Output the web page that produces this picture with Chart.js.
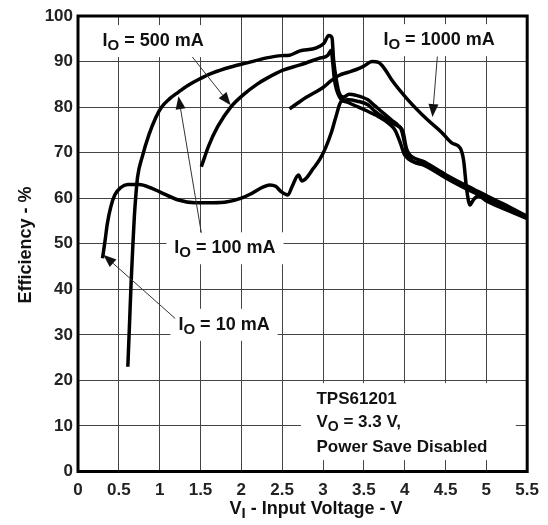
<!DOCTYPE html>
<html>
<head>
<meta charset="utf-8">
<script src="https://cdn.jsdelivr.net/npm/chart.js@4.4.0/dist/chart.umd.min.js"></script>
<style>
  html, body { margin: 0; padding: 0; background: #fff; }
</style>
</head>
<body>
<canvas id="chart" width="548" height="525"></canvas>
<script>
// axis ticks
const xTicks = [0, 0.5, 1, 1.5, 2, 2.5, 3, 3.5, 4, 4.5, 5, 5.5];
const yTicks = [0, 10, 20, 30, 40, 50, 60, 70, 80, 90, 100];

// IO = 10 mA
const io10V   = [0.30, 0.33, 0.36, 0.40, 0.45, 0.52, 0.61, 0.75, 0.90, 1.00, 1.23, 1.43, 1.65, 1.83, 2.00, 2.10, 2.27, 2.35, 2.42, 2.49, 2.57, 2.62, 2.70, 2.74, 2.80, 2.88, 2.96, 3.03, 3.10, 3.16, 3.22, 3.30, 3.42, 3.55, 3.64, 3.80, 3.92, 3.96, 4.00, 4.04, 4.24, 4.52, 4.84, 5.20, 5.50];
const io10Eff = [46.8, 50.5, 54.5, 58.0, 60.7, 62.3, 63.0, 63.0, 62.2, 61.4, 59.6, 59.0, 59.0, 59.2, 60.0, 60.8, 62.5, 62.9, 62.6, 61.4, 60.7, 62.5, 65.1, 63.8, 64.5, 66.5, 68.5, 71.0, 74.3, 78.0, 81.2, 81.6, 81.3, 80.5, 79.0, 77.0, 75.8, 75.0, 72.0, 69.3, 67.2, 64.3, 61.3, 58.5, 55.8];

// IO = 100 mA
const io100V   = [0.61, 0.63, 0.65, 0.67, 0.69, 0.71, 0.73, 0.79, 0.87, 0.95, 1.02, 1.12, 1.23, 1.35, 1.47, 1.65, 1.87, 2.07, 2.31, 2.49, 2.59, 2.71, 2.92, 3.01, 3.07, 3.11, 3.13, 3.17, 3.20, 3.25, 3.32, 3.40, 3.55, 3.64, 3.75, 3.85, 3.92, 3.98, 4.02, 4.05, 4.24, 4.52, 4.84, 5.20, 5.50];
const io100Eff = [23.0, 32.0, 41.3, 49.0, 56.0, 61.0, 64.7, 69.3, 74.0, 77.6, 79.9, 81.8, 83.3, 84.8, 86.0, 87.5, 88.8, 89.7, 90.8, 91.3, 91.4, 92.3, 93.0, 94.0, 95.7, 95.2, 90.3, 85.3, 83.0, 82.2, 82.8, 82.6, 81.6, 80.2, 78.5, 77.0, 76.0, 74.5, 71.0, 69.8, 68.0, 65.0, 62.0, 58.8, 56.0];

// IO = 500 mA
const io500V   = [1.51, 1.60, 1.71, 1.87, 2.03, 2.19, 2.31, 2.51, 2.71, 2.95, 3.06, 3.10, 3.12, 3.14, 3.20, 3.31, 3.52, 3.68, 3.80, 3.88, 3.95, 4.00, 4.24, 4.52, 4.84, 5.20, 5.50];
const io500Eff = [66.9, 71.5, 75.7, 80.0, 82.8, 85.0, 86.3, 88.1, 89.2, 90.7, 91.4, 92.5, 89.6, 86.0, 82.3, 81.0, 79.3, 77.9, 76.5, 75.0, 72.0, 69.5, 67.4, 64.5, 61.5, 58.3, 55.6];

// IO = 1000 mA
const io1000V   = [2.59, 2.70, 2.80, 2.90, 3.00, 3.10, 3.20, 3.30, 3.40, 3.50, 3.60, 3.68, 3.75, 3.84, 4.04, 4.28, 4.45, 4.58, 4.68, 4.72, 4.76, 4.80, 4.84, 4.90, 5.00, 5.24, 5.50];
const io1000Eff = [79.6, 81.0, 82.2, 83.2, 84.3, 85.8, 87.0, 87.6, 88.2, 89.0, 90.0, 89.8, 88.5, 86.0, 81.6, 77.2, 74.5, 72.1, 71.0, 68.5, 61.8, 58.5, 59.6, 60.5, 59.4, 57.5, 55.5];

const FONT = '"Liberation Sans", Arial, sans-serif';
const toPoints = (xs, ys) => xs.map((x, i) => ({ x, y: ys[i] }));

function curve(label, xs, ys) {
  return {
    label,
    data: toPoints(xs, ys),
    showLine: true,
    borderColor: '#000',
    borderWidth: 3.5,
    pointRadius: 0,
    cubicInterpolationMode: 'monotone',
    fill: false
  };
}

// curve labels: text anchor, arrow start, arrow tip (in data units)
const notes = [
  { at: [0.30, 94.5], text: '500 mA', from: [1.40, 91.0], to: [1.87, 80.4] },
  { at: [3.74, 94.7], text: '1000 mA', from: [4.40, 91.1], to: [4.34, 77.8] },
  { at: [1.18, 49.0], text: '100 mA', from: [1.51, 52.4], to: [1.23, 82.4] },
  { at: [1.23, 32.2], text: '10 mA', from: [1.19, 33.6], to: [0.31, 47.6] }
];

// draws "I" + subscript + rest, returns width
function subText(ctx, x, y, main, sub, rest, size, draw) {
  ctx.font = 'bold ' + size + 'px ' + FONT;
  const w1 = ctx.measureText(main).width;
  const w3 = ctx.measureText(rest).width;
  ctx.font = 'bold ' + (size - 3) + 'px ' + FONT;
  const w2 = ctx.measureText(sub).width;
  if (draw) {
    ctx.textBaseline = 'middle';
    ctx.textAlign = 'left';
    ctx.font = 'bold ' + size + 'px ' + FONT;
    ctx.fillText(main, x, y);
    ctx.font = 'bold ' + (size - 3) + 'px ' + FONT;
    ctx.fillText(sub, x + w1, y + 5);
    ctx.font = 'bold ' + size + 'px ' + FONT;
    ctx.fillText(rest, x + w1 + w2, y);
  }
  return w1 + w2 + w3;
}

function arrow(ctx, x1, y1, x2, y2) {
  ctx.strokeStyle = '#333';
  ctx.fillStyle = '#111';
  ctx.lineWidth = 1;
  const a = Math.atan2(y2 - y1, x2 - x1), L = 13, W = 5;
  ctx.beginPath();
  ctx.moveTo(x1, y1);
  ctx.lineTo(x2 - L * Math.cos(a), y2 - L * Math.sin(a));
  ctx.stroke();
  ctx.beginPath();
  ctx.moveTo(x2, y2);
  ctx.lineTo(x2 - L * Math.cos(a) + W * Math.sin(a), y2 - L * Math.sin(a) - W * Math.cos(a));
  ctx.lineTo(x2 - L * Math.cos(a) - W * Math.sin(a), y2 - L * Math.sin(a) + W * Math.cos(a));
  ctx.closePath();
  ctx.fill();
}

const annotations = {
  id: 'annotations',
  beforeDatasetsDraw(chart) {
    const { ctx, scales: { x, y } } = chart;
    ctx.save();
    ctx.fillStyle = '#fff';
    notes.forEach(n => {
      const px = x.getPixelForValue(n.at[0]), py = y.getPixelForValue(n.at[1]);
      const w = subText(ctx, px, py, 'I', 'O', ' = ' + n.text, 18, false);
      ctx.fillStyle = '#fff';
      ctx.fillRect(px - 8, py - 16, w + 16, 32);
    });
    // info box
    const bx1 = x.getPixelForValue(2.73), bx2 = x.getPixelForValue(5.36);
    const by1 = y.getPixelForValue(19.4), by2 = y.getPixelForValue(2.5);
    ctx.fillRect(bx1, by1, bx2 - bx1, by2 - by1);
    ctx.restore();
  },
  afterDatasetsDraw(chart) {
    const { ctx, chartArea: a, scales: { x, y } } = chart;
    ctx.save();
    ctx.fillStyle = '#111';
    notes.forEach(n => {
      const px = x.getPixelForValue(n.at[0]), py = y.getPixelForValue(n.at[1]);
      ctx.fillStyle = '#111';
      subText(ctx, px, py, 'I', 'O', ' = ' + n.text, 18, true);
      arrow(ctx, x.getPixelForValue(n.from[0]), y.getPixelForValue(n.from[1]),
                 x.getPixelForValue(n.to[0]), y.getPixelForValue(n.to[1]));
    });
    // info text
    const tx = x.getPixelForValue(2.92);
    ctx.fillStyle = '#111';
    ctx.font = 'bold 17px ' + FONT;
    ctx.textAlign = 'left';
    ctx.textBaseline = 'middle';
    ctx.fillText('TPS61201', tx, y.getPixelForValue(15.9));
    subText(ctx, tx, y.getPixelForValue(10.8), 'V', 'O', ' = 3.3 V,', 17, true);
    ctx.font = 'bold 17px ' + FONT;
    ctx.fillText('Power Save Disabled', tx, y.getPixelForValue(5.3));

    // plot frame
    ctx.strokeStyle = '#000';
    ctx.lineWidth = 3;
    ctx.strokeRect(a.left, a.top, a.right - a.left, a.bottom - a.top);

    // axis titles
    ctx.fillStyle = '#111';
    const xt = 'V', xs = 'I', xr = ' - Input Voltage - V';
    const w = subText(ctx, 0, 0, xt, xs, xr, 18, false);
    subText(ctx, 316 - w / 2, 509, xt, xs, xr, 18, true);
    ctx.translate(26, 245);
    ctx.rotate(-Math.PI / 2);
    ctx.font = 'bold 18px ' + FONT;
    ctx.textAlign = 'center';
    ctx.textBaseline = 'middle';
    ctx.fillText('Efficiency - %', 0, 0);
    ctx.restore();
  }
};

new Chart(document.getElementById('chart'), {
  type: 'scatter',
  data: {
    datasets: [
      curve('IO = 10 mA', io10V, io10Eff),
      curve('IO = 100 mA', io100V, io100Eff),
      curve('IO = 500 mA', io500V, io500Eff),
      curve('IO = 1000 mA', io1000V, io1000Eff)
    ]
  },
  options: {
    responsive: false,
    animation: false,
    layout: { padding: { top: 16, right: 13, left: 0, bottom: 0 } },
    plugins: {
      legend: { display: false },
      tooltip: { enabled: false },
      title: { display: false }
    },
    scales: {
      x: {
        type: 'linear',
        min: 0,
        max: 5.5,
        afterBuildTicks: s => { s.ticks = xTicks.map(v => ({ value: v })); },
        afterFit: s => { s.height = 53.5; },
        grid: { color: '#444', lineWidth: 1, drawTicks: false },
        border: { display: false },
        ticks: {
          color: '#222',
          padding: 9,
          maxRotation: 0,
          font: { family: FONT, size: 17, weight: 'bold' },
          callback: v => String(v)
        }
      },
      y: {
        min: 0,
        max: 100,
        afterBuildTicks: s => { s.ticks = yTicks.map(v => ({ value: v })); },
        afterFit: s => { s.width = 78; },
        grid: { color: '#444', lineWidth: 1, drawTicks: false },
        border: { display: false },
        ticks: {
          color: '#222',
          padding: 5,
          font: { family: FONT, size: 17, weight: 'bold' }
        }
      }
    }
  },
  plugins: [annotations]
});
</script>
</body>
</html>
